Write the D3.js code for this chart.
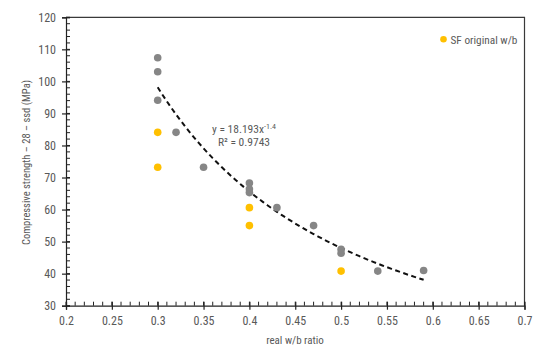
<!DOCTYPE html>
<html><head><meta charset="utf-8">
<script src="https://cdn.jsdelivr.net/npm/d3@7"></script>
<style>
body{margin:0;background:#fff;}
text{font-family:"Liberation Sans Narrow","Roboto Condensed","DejaVu Sans Condensed","Liberation Sans",sans-serif;fill:#595959;}
</style></head>
<body><svg id="c" width="550" height="357"></svg>
<script>
// Data
const grayX = [0.30,0.30,0.30,0.32,0.35,0.40,0.40,0.40,0.43,0.47,0.50,0.50,0.54,0.59];
const grayY = [107.4,103.0,94.1,84.1,73.2,68.3,66.4,65.3,60.6,55.0,47.6,46.4,40.8,41.0];
const sfX = [0.30,0.30,0.40,0.40,0.50];
const sfY = [84.1,73.2,60.6,55.0,40.8];
const xTicks = [0.2,0.25,0.3,0.35,0.4,0.45,0.5,0.55,0.6,0.65,0.7];
const yTicks = [30,40,50,60,70,80,90,100,110,120];
const trendCoef = 18.193, trendExp = -1.4;
const trendRange = [0.30,0.59];
const legendLabel = "SF original w/b";
const xTitle = "real w/b ratio";
const yTitle = "Compressive strength \u2013 28 \u2013 ssd (MPa)";

const svg = d3.select("#c");
const L=66, R=524.5, T=17.3, B=305.7;
const x = d3.scaleLinear().domain([0.2,0.7]).range([L,R]);
const y = d3.scaleLinear().domain([30,120]).range([B,T]);

// plot border (top & right)
svg.append("path").attr("d",`M${L},${T}H${R}V${B}`).attr("fill","none").attr("stroke","#3a3a3a").attr("stroke-width",1.2);

// minor ticks
const xMinor = d3.range(20,71).map(d=>d/100);
const yMinor = d3.range(30,121,2);
svg.append("g").selectAll("line").data(xMinor).join("line")
  .attr("x1",d=>x(d)).attr("x2",d=>x(d)).attr("y1",B).attr("y2",B-4)
  .attr("stroke","#222").attr("stroke-width",1);
svg.append("g").selectAll("line").data(yMinor).join("line")
  .attr("y1",d=>y(d)).attr("y2",d=>y(d)).attr("x1",L).attr("x2",L+4)
  .attr("stroke","#222").attr("stroke-width",1);

// axes
const xAxis = svg.append("g").attr("transform",`translate(0,${B})`)
  .call(d3.axisBottom(x).tickValues(xTicks).tickFormat(d=>String(+d.toFixed(2))).tickSize(4).tickPadding(7));
const yAxis = svg.append("g").attr("transform",`translate(${L},0)`)
  .call(d3.axisLeft(y).tickValues(yTicks).tickSize(4).tickPadding(7));
[xAxis,yAxis].forEach(g=>{
  g.select(".domain").attr("stroke","#222").attr("stroke-width",1.2);
  g.selectAll(".tick line").attr("stroke","#222").attr("stroke-width",1.2);
  g.selectAll(".tick text").attr("fill","#595959").style("font-size","12px");
});
// make major ticks cross the axis
xAxis.selectAll(".tick line").attr("y1",-4).attr("y2",4);
yAxis.selectAll(".tick line").attr("x1",4).attr("x2",-4);
yAxis.selectAll(".tick text").attr("x",-10);

// trend line
const tx = d3.range(trendRange[0], trendRange[1]+0.0001, 0.005);
const line = d3.line().x(d=>x(d)).y(d=>y(trendCoef*Math.pow(d,trendExp)));
svg.append("path").datum(tx).attr("d",line).attr("fill","none")
  .attr("stroke","#111").attr("stroke-width",2).attr("stroke-dasharray","5,3.5");

// points
svg.append("g").selectAll("circle").data(grayX.map((d,i)=>[d,grayY[i]])).join("circle")
  .attr("cx",d=>x(d[0])).attr("cy",d=>y(d[1])).attr("r",3.8).attr("fill","#868686");
svg.append("g").selectAll("circle").data(sfX.map((d,i)=>[d,sfY[i]])).join("circle")
  .attr("cx",d=>x(d[0])).attr("cy",d=>y(d[1])).attr("r",3.8).attr("fill","#ffc000");

// equation
const eq = svg.append("text").attr("x",244).attr("y",133).attr("text-anchor","middle").style("font-size","11.5px");
eq.append("tspan").text("y = 18.193x");
eq.append("tspan").text("-1.4").attr("dy",-4).style("font-size","8px");
svg.append("text").attr("x",244).attr("y",146).attr("text-anchor","middle").style("font-size","11.5px").text("R\u00b2 = 0.9743");

// legend
svg.append("circle").attr("cx",443.5).attr("cy",39.3).attr("r",3.3).attr("fill","#ffc000");
svg.append("text").attr("x",450.5).attr("y",43.5).style("font-size","11.3px").text(legendLabel);

// titles
svg.append("text").attr("x",295).attr("y",344).attr("text-anchor","middle").style("font-size","11px").text(xTitle);
svg.append("text").attr("transform",`translate(30,${(T+B)/2+1}) rotate(-90)`).attr("text-anchor","middle").style("font-size","10.5px").text(yTitle);
</script></body></html>
